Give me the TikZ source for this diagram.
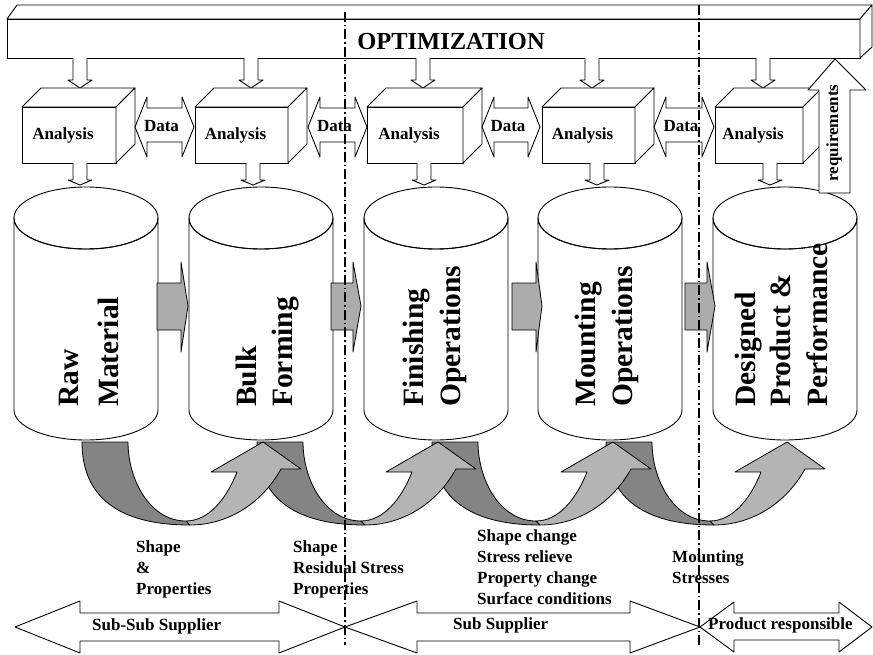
\documentclass[tikz,border=0pt]{standalone}
\usepackage{fontspec}
\setmainfont{Liberation Serif}
\definecolor{darkg}{RGB}{132,132,132}
\definecolor{lightg}{RGB}{180,180,180}
\definecolor{arrg}{RGB}{172,172,172}
\begin{document}
\begin{tikzpicture}[x=1pt,y=-1pt,
  outl/.style={draw=black,line width=0.9pt,line join=round},
  hollow/.style={outl,fill=white},
  cylt/.style={font=\fontsize{29.5}{36}\selectfont\bfseries,rotate=90,anchor=base west,inner sep=0pt},
  smallt/.style={font=\fontsize{17}{21}\selectfont\bfseries,inner sep=0pt},
  lbl/.style={smallt,align=left,anchor=north west},
  sepline/.style={line width=1.2pt,dash pattern=on 10pt off 3pt on 1.5pt off 3pt}]
\useasboundingbox (0,0) rectangle (873,655);
\fill[white] (0,0) rectangle (873,655);

% optimization bar
\draw[hollow] (7,19) rectangle (860,58);
\draw[hollow] (7,19) -- (17,5) -- (872,5) -- (860,19) -- cycle;
\draw[hollow] (860,19) -- (872,5) -- (872,47) -- (860,58) -- cycle;
\node[font=\fontsize{24.5}{28}\selectfont\bfseries,inner sep=0pt,anchor=base] (opt) at (451,50) {OPTIMIZATION};

% arrows bar -> analysis
\foreach \m [count=\i] in {80,251,423,592,763} {
  \draw[hollow] (\m-7,58) -- (\m-7,80) -- (\m-12,80) -- (\m,88) -- (\m+12,80) -- (\m+7,80) -- (\m+7,58);
}

% analysis boxes
\foreach \L/\R [count=\i] in {22/116,195/288,367/463,542/635,715/803} {
  \draw[hollow] (\L,107) rectangle (\R,163);
  \draw[hollow] (\L,107) -- (\L+19,88) -- (\R+19,88) -- (\R,107) -- cycle;
  \draw[hollow] (\R,107) -- (\R+19,88) -- (\R+19,144) -- (\R,163) -- cycle;
  \node[smallt,anchor=base] (an\i) at ({(\L+\R)/2-6},140) {Analysis};
}

% data arrows
\foreach \a/\b [count=\i] in {135/194,308/367,482/540,654/714} {
  \draw[hollow] (\a,127) -- (\a+12,97) -- (\a+12,108) -- (\b-12,108) -- (\b-12,97) -- (\b,127)
     -- (\b-12,157) -- (\b-12,142) -- (\a+12,142) -- (\a+12,157) -- cycle;
  \node[smallt,anchor=base] (data\i) at ({(\a+\b)/2-3},132) {Data};
}

% arrows analysis -> cylinder
\foreach \m [count=\i] in {80,253,424,597,770} {
  \draw[hollow] (\m-7,163) -- (\m-7,180) -- (\m-12,180) -- (\m,185) -- (\m+12,180) -- (\m+7,180) -- (\m+7,163);
}

% cylinders
\foreach \c [count=\i] in {86,261,436,610,785} {
  \filldraw[hollow] (\c-72,218) -- (\c-72,410) arc[start angle=180,end angle=0,x radius=72,y radius=30]
     -- (\c+72,218) arc[start angle=0,end angle=180,x radius=72,y radius=31] -- cycle;
  \draw[outl] (\c,218) ellipse[x radius=72,y radius=31];
}

% cylinder texts
\node[cylt] (t1a) at (78,407) {Raw};
\node[cylt] (t1b) at (118,407) {Material};
\node[cylt] (t2a) at (256,407) {Bulk};
\node[cylt] (t2b) at (292,407) {Forming};
\node[cylt] (t3a) at (423,407) {Finishing};
\node[cylt] (t3b) at (460,407) {Operations};
\node[cylt] (t4a) at (595,407) {Mounting};
\node[cylt] (t4b) at (632,407) {Operations};
\node[cylt] (t5a) at (755,407) {Designed};
\node[cylt] (t5b) at (790,407) {Product \&};
\node[cylt] (t5c) at (827,407) {Performance};

% gray arrows between cylinders
\foreach \s/\h/\t in {157/181/188,331/353/361,512/536/542,685/707/715} {
  \filldraw[outl,fill=arrg,line width=0.8pt] (\s,283) -- (\h,283) -- (\h,262) -- (\t,306) -- (\h,352) -- (\h,330) -- (\s,330) -- cycle;
}

% curved arrows (dark parts)
\foreach \c in {86,261,436,610} {
  \filldraw[outl,fill=darkg,line width=0.8pt] (\c-4,442) -- (\c+42,442)
    .. controls (\c+42,480) and (\c+64,521) .. (\c+100,521) -- (\c+104,525)
    .. controls (\c+30,525) and (\c-4,495) .. (\c-4,442) -- cycle;
}
% curved arrows (light parts)
\foreach \c in {86,261,436,610} {
  \filldraw[outl,fill=lightg,line width=0.8pt] (\c+104,525)
    .. controls (\c+140,525) and (\c+175,505) .. (\c+195,469) -- (\c+215,469) -- (\c+177,442)
    -- (\c+125,472) -- (\c+151,472)
    .. controls (\c+140,500) and (\c+122,521) .. (\c+100,521) -- cycle;
}

% requirements arrow
\draw[hollow] (819,193) -- (819,90) -- (808,90) -- (835,59) -- (866,90) -- (850,90) -- (850,193) -- cycle;
\node[smallt,rotate=90] (req) at (834,133) {requirements};

% labels
\node[lbl] (l1) at (136,541) {Shape\\\&\\Properties};
\node[lbl] (l2) at (293,541) {Shape\\Residual Stress\\Properties};
\node[lbl] (l3) at (477,530) {Shape change\\Stress relieve\\Property change\\Surface conditions};
\node[lbl] (l4) at (672,551) {Mounting\\Stresses};

% bottom arrows
\draw[hollow] (15,627) -- (80,601) -- (80,613) -- (279,613) -- (279,601) -- (345,627) -- (279,653)
  -- (279,641) -- (80,641) -- (80,653) -- cycle;
\draw[hollow] (345,627) -- (417,601) -- (417,613) -- (630,613) -- (630,601) -- (700,627) -- (630,653)
  -- (630,641) -- (417,641) -- (417,653) -- cycle;
\draw[hollow] (700,627) -- (734,602) -- (734,613) -- (839,613) -- (839,602) -- (872,627) -- (839,652)
  -- (839,640) -- (734,640) -- (734,652) -- cycle;
\node[smallt,anchor=base west] (b1) at (92,630) {Sub-Sub Supplier};
\node[smallt,anchor=base west] (b2) at (453,629) {Sub Supplier};
\node[smallt,anchor=base west] (b3) at (708,629) {Product responsible};

% separators
\coordinate (s1t) at (345,12); \coordinate (s1b) at (345,645);
\coordinate (s2t) at (699,5); \coordinate (s2b) at (699,645);
\draw[sepline] (s1t) -- (s1b);
\draw[sepline] (s2t) -- (s2b);
\end{tikzpicture}
\end{document}
